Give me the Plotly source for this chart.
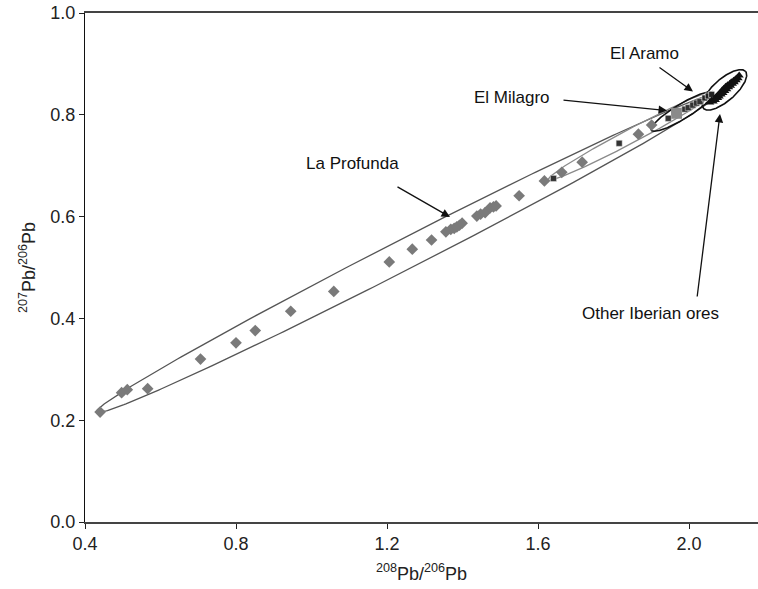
import numpy as np
import plotly.graph_objects as go

# ---------------- data ----------------
la_profunda_x = [0.440, 0.497, 0.512, 0.566, 0.706, 0.800, 0.851, 0.945, 1.059, 1.206,
                 1.267, 1.318, 1.356, 1.369, 1.378, 1.385, 1.392, 1.399, 1.438, 1.448,
                 1.460, 1.473, 1.482, 1.489, 1.550, 1.617, 1.663, 1.717, 1.866, 1.901]
la_profunda_y = [0.216, 0.254, 0.260, 0.262, 0.320, 0.352, 0.376, 0.414, 0.453, 0.511,
                 0.536, 0.554, 0.570, 0.575, 0.577, 0.580, 0.583, 0.587, 0.601, 0.605,
                 0.608, 0.617, 0.619, 0.621, 0.641, 0.670, 0.687, 0.707, 0.762, 0.780]

el_milagro_x = [1.641, 1.815, 1.945, 1.989, 1.998, 2.010, 2.020, 2.029]
el_milagro_y = [0.675, 0.744, 0.793, 0.811, 0.814, 0.819, 0.823, 0.826]
el_milagro_big_x = [1.967]
el_milagro_big_y = [0.803]

el_aramo_x = [2.042, 2.051, 2.060]
el_aramo_y = [0.833, 0.837, 0.840]

iberian_x = [2.055, 2.060, 2.064, 2.068, 2.070, 2.073, 2.076, 2.078, 2.080, 2.083,
             2.085, 2.088, 2.090, 2.092, 2.095, 2.097, 2.100, 2.102, 2.105, 2.108,
             2.110, 2.112, 2.115, 2.118, 2.120, 2.123, 2.125, 2.128, 2.130, 2.133]
iberian_y = [0.824, 0.828, 0.826, 0.832, 0.829, 0.836, 0.833, 0.840, 0.836, 0.844,
             0.840, 0.848, 0.843, 0.851, 0.847, 0.855, 0.850, 0.858, 0.854, 0.861,
             0.857, 0.864, 0.861, 0.867, 0.864, 0.870, 0.868, 0.873, 0.872, 0.877]

x_ticks = [0.4, 0.8, 1.2, 1.6, 2.0]
y_ticks = [0.0, 0.2, 0.4, 0.6, 0.8, 1.0]

# ---------------- layout constants ----------------
W, H = 758, 589
ML, MR, MT, MB = 85, 0, 13, 67
X_RANGE = [0.4, 0.4 + (W - ML - MR) / 377.5]
Y_RANGE = [0.0, 1.0]
KX = (W - ML - MR) / (X_RANGE[1] - X_RANGE[0])   # px per x unit
KY = (H - MT - MB) / (Y_RANGE[1] - Y_RANGE[0])   # px per y unit

# ellipses: (center x, center y, semi-major px, semi-minor px, angle deg, colour, width)
ellipses = [
    (1.2514, 0.5276, 348, 15, 27.1, "#555555", 1.3),
    (1.8464, 0.7585, 94, 7, 27.9, "#8a8a8a", 1.3),
    (1.9815, 0.8063, 36, 7.5, 31.2, "#111111", 1.6),
    (2.0940, 0.8490, 28, 11, 41.3, "#111111", 1.6),
]

fig = go.Figure()

t = np.linspace(0, 2 * np.pi, 400)
for cx, cy, a, b, ang, col, lw in ellipses:
    th = np.deg2rad(ang)
    u = a * np.cos(t) * np.cos(th) - b * np.sin(t) * np.sin(th)
    v = a * np.cos(t) * np.sin(th) + b * np.sin(t) * np.cos(th)
    fig.add_trace(go.Scatter(x=cx + u / KX, y=cy + v / KY, mode="lines",
                             line=dict(color=col, width=lw), hoverinfo="skip",
                             showlegend=False))

fig.add_trace(go.Scatter(x=la_profunda_x, y=la_profunda_y, mode="markers",
                         marker=dict(symbol="diamond", size=9, color="#7a7a7a"),
                         name="La Profunda", showlegend=False))
fig.add_trace(go.Scatter(x=el_milagro_big_x, y=el_milagro_big_y, mode="markers",
                         marker=dict(symbol="square", size=11, color="#8a8a8a"),
                         name="El Milagro", showlegend=False))
fig.add_trace(go.Scatter(x=el_milagro_x, y=el_milagro_y, mode="markers",
                         marker=dict(symbol="square", size=6, color="#333333",
                                     line=dict(color="#dddddd", width=0.5)),
                         name="El Milagro", showlegend=False))
fig.add_trace(go.Scatter(x=el_aramo_x, y=el_aramo_y, mode="markers",
                         marker=dict(symbol="square", size=6, color="#222222",
                                     line=dict(color="#ffffff", width=0.6)),
                         name="El Aramo", showlegend=False))
fig.add_trace(go.Scatter(x=iberian_x, y=iberian_y, mode="markers",
                         marker=dict(symbol="triangle-up", size=8, color="#111111"),
                         name="Other Iberian ores", showlegend=False))

FONT = "Liberation Sans, Arial, sans-serif"

def px2x(p):
    return X_RANGE[0] + (p - ML) / KX

def px2y(p):
    return Y_RANGE[1] - (p - MT) / KY

labels = [
    ("La Profunda", 352, 163),
    ("El Milagro", 512, 97),
    ("El Aramo", 644, 53),
    ("Other Iberian ores", 650, 313),
]
for txt, px, py in labels:
    fig.add_annotation(x=px2x(px), y=px2y(py), text=txt, showarrow=False,
                       font=dict(family=FONT, size=17, color="#111111"))

arrows = [  # head px, tail px
    ((450, 217), (396, 186)),
    ((667, 110.5), (562, 100)),
    ((693, 91.5), (658, 66.5)),
    ((720, 114), (697, 298)),
]
for (hx, hy), (tx, ty) in arrows:
    fig.add_annotation(x=px2x(hx), y=px2y(hy), ax=px2x(tx), ay=px2y(ty),
                       axref="x", ayref="y", xref="x", yref="y", text="",
                       showarrow=True, arrowhead=2, arrowsize=1.3, arrowwidth=1.3,
                       arrowcolor="#111111")

fig.update_layout(
    width=W, height=H,
    margin=dict(l=ML, r=MR, t=MT, b=MB),
    paper_bgcolor="white", plot_bgcolor="white",
    font=dict(family=FONT, size=18, color="#222222"),
    xaxis=dict(range=X_RANGE, tickvals=x_ticks,
               ticktext=[f"{v:.1f}" for v in x_ticks],
               showgrid=False, zeroline=False, showline=True, linecolor="#444444",
               linewidth=1.5, mirror=True, ticks="outside", ticklen=5,
               tickcolor="#222222", tickfont=dict(size=18),
               title=dict(text="<sup>208</sup>Pb/<sup>206</sup>Pb",
                          font=dict(size=18), standoff=14)),
    yaxis=dict(range=Y_RANGE, tickvals=y_ticks,
               ticktext=[f"{v:.1f}" for v in y_ticks],
               showgrid=False, zeroline=False, showline=True, linecolor="#111111",
               linewidth=1, ticks="outside", ticklen=5, tickcolor="#222222",
               tickfont=dict(size=18),
               title=dict(text="<sup>207</sup>Pb/<sup>206</sup>Pb",
                          font=dict(size=18), standoff=10)),
)

fig.write_html("out.html", config={"displayModeBar": False},
               post_script="document.body.style.margin='0';"
                           "document.body.style.overflow='hidden';")
